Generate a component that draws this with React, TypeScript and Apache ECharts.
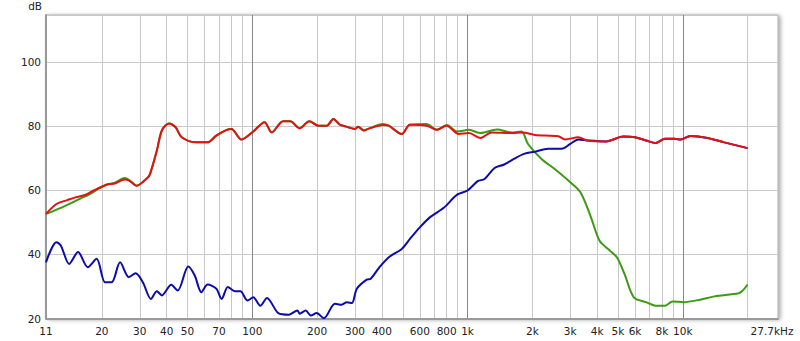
import React, { useEffect, useRef } from 'react';
import * as echarts from 'echarts';

const redFreq = [11, 12.3, 13.8, 14.8, 16.7, 18.3, 21, 23, 25.5, 27, 29, 32.5, 33.5, 36, 38, 41, 44, 47, 55, 62, 68, 76, 80, 89, 101, 114, 123, 139, 150, 166, 184, 203, 222, 238, 255, 265, 300, 310, 330, 345, 405, 430, 495, 540, 645, 720, 800, 910, 1015, 1150, 1290, 1600, 1800, 2060, 2640, 2840, 3270, 3600, 4400, 5300, 6000, 6750, 7480, 8270, 9150, 9800, 10850, 13200, 15600, 20000];
const redDb = [52.6, 55.7, 56.9, 57.6, 58.5, 59.9, 61.7, 62.1, 63.3, 62.8, 61.4, 63.8, 65.1, 72.3, 78.6, 80.8, 79.6, 76.5, 74.9, 74.9, 77.0, 78.8, 79.1, 75.8, 78.3, 81.2, 78.0, 81.5, 81.5, 79.3, 81.5, 80.1, 80.1, 82.2, 80.4, 80.1, 79.1, 79.8, 78.6, 79.1, 80.3, 80.1, 77.5, 80.4, 80.1, 78.8, 80.1, 77.5, 77.8, 76.3, 78.0, 77.8, 78.0, 77.2, 76.8, 75.8, 76.5, 75.5, 75.2, 76.7, 76.5, 75.5, 74.7, 76.0, 76.0, 75.8, 76.9, 76.2, 74.9, 73.1];

const greenFreq = [11, 12.9, 15.8, 17.6, 19.5, 21, 23, 25.5, 27, 29, 32.5, 33.5, 36, 38, 41, 44, 47, 55, 62, 68, 76, 80, 89, 101, 114, 123, 139, 150, 166, 184, 203, 222, 238, 255, 265, 300, 310, 330, 345, 405, 430, 495, 540, 645, 720, 800, 895, 1015, 1150, 1370, 1600, 1780, 1910, 2200, 2540, 3000, 3340, 3720, 4100, 4540, 4940, 5360, 5920, 6750, 7480, 8270, 8980, 10100, 11900, 14050, 18200, 19000, 20000];
const greenDb = [52.6, 54.5, 57.3, 58.8, 60.6, 61.7, 62.3, 63.8, 63.0, 61.4, 63.8, 65.1, 72.3, 78.6, 80.8, 79.6, 76.5, 74.9, 74.9, 77.0, 78.8, 79.1, 75.8, 78.3, 81.2, 78.0, 81.5, 81.5, 79.3, 81.5, 80.1, 80.1, 82.2, 80.4, 80.1, 79.1, 79.8, 78.6, 79.1, 80.6, 80.1, 77.5, 80.4, 80.6, 78.8, 80.3, 78.3, 78.8, 77.8, 78.9, 78.0, 78.3, 74.4, 69.8, 66.6, 62.5, 59.4, 52.1, 44.3, 41.4, 39.1, 33.9, 26.6, 25.1, 24.0, 24.0, 25.3, 25.1, 25.8, 26.9, 27.9, 28.7, 30.6];

const blueFreq = [11, 12.3, 12.9, 14.1, 15.5, 17.2, 18.9, 20.7, 22.2, 24.3, 26.7, 28.7, 31, 33.8, 36, 38, 42, 45, 50.4, 54, 58, 62, 68, 72, 77, 83, 88, 95, 101, 109, 117, 132, 148, 162, 166, 177, 187, 199, 215, 242, 260, 275, 290, 306, 340, 355, 390, 435, 495, 540, 600, 670, 775, 895, 1000, 1115, 1200, 1335, 1480, 1650, 1830, 2060, 2370, 2740, 3000, 3270, 3600, 4400, 5300, 6000, 6750, 7480, 8270, 9150, 9800, 10850, 13200, 15600, 20000];
const blueDb = [37.5, 43.8, 42.7, 37.0, 40.7, 36.0, 38.6, 31.3, 31.3, 37.5, 32.9, 34.1, 31.3, 26.1, 28.5, 27.2, 30.5, 28.7, 36.2, 33.4, 28.2, 30.6, 29.3, 26.1, 29.8, 28.5, 28.5, 25.6, 26.6, 24.0, 26.4, 21.7, 21.2, 22.5, 21.5, 22.5, 20.9, 21.7, 20.1, 24.6, 24.3, 25.1, 24.8, 29.3, 32.1, 32.4, 36.0, 39.3, 41.7, 44.8, 48.4, 51.6, 54.5, 58.6, 59.9, 62.8, 63.5, 66.9, 68.0, 69.8, 71.3, 72.0, 72.9, 72.9, 74.4, 75.8, 75.5, 75.2, 76.7, 76.5, 75.5, 74.7, 76.0, 76.0, 75.8, 76.9, 76.2, 74.9, 73.1];

const minorGrid = [20, 30, 40, 50, 60, 70, 80, 90, 200, 300, 400, 500, 600, 700, 800, 900, 2000, 3000, 4000, 5000, 6000, 7000, 8000, 9000, 20000];
const decadeGrid = [100, 1000, 10000];
const labelFreqs = [11, 20, 30, 40, 50, 70, 100, 200, 300, 400, 600, 800, 1000, 2000, 3000, 4000, 5000, 6000, 8000, 10000, 27700];
const labelTexts = ['11', '20', '30', '40', '50', '70', '100', '200', '300', '400', '600', '800', '1k', '2k', '3k', '4k', '5k', '6k', '8k', '10k', '27.7kHz'];

const FONT = 'DejaVu Sans';
const FS = 10.5;

const zip = (f: number[], d: number[]) => f.map((x, i) => [x, d[i]]);

export default function App() {
  const ref = useRef<HTMLDivElement>(null);
  useEffect(() => {
    const chart = echarts.init(ref.current!, null, { renderer: 'svg' });
    const fmt = (v: number) => {
      const i = labelFreqs.findIndex((x) => Math.abs(x - v) / x < 0.002);
      if (i < 0) return '';
      if (labelTexts[i] === '27.7kHz') return '{u|27.7kHz}';
      return labelTexts[i];
    };
    const mkSeries = (name: string, data: number[][], color: string) => ({
      name,
      type: 'line',
      data,
      xAxisIndex: 0,
      yAxisIndex: 0,
      showSymbol: false,
      symbol: 'none',
      smooth: 0.3,
      lineStyle: { color, width: 2 },
      itemStyle: { color },
      emphasis: { disabled: true },
    });
    chart.setOption({
      animation: false,
      backgroundColor: '#ffffff',
      grid: {
        left: 46,
        right: 22,
        top: 14,
        bottom: 22.5,
        show: true,
        backgroundColor: '#ffffff',
        borderColor: '#aaaaaa',
        borderWidth: 1,
        shadowColor: 'rgba(0,0,0,0.35)',
        shadowBlur: 4,
        shadowOffsetX: 2,
        shadowOffsetY: 1,
      },
      xAxis: [
        {
          type: 'log',
          logBase: 10,
          min: 11,
          max: 27700,
          position: 'bottom',
          axisLine: { show: true, onZero: false, lineStyle: { color: '#999999', width: 2 } },
          axisTick: { show: false, customValues: minorGrid },
          splitLine: { show: true, lineStyle: { color: '#c8c8c8', width: 1 } },
          axisLabel: {
            customValues: labelFreqs,
            formatter: fmt,
            fontFamily: FONT,
            fontSize: FS,
            color: '#222222',
            margin: 7,
            rich: { u: { padding: [0, 12, 0, 0], fontFamily: FONT, fontSize: FS, color: '#222222' } },
          },
        },
        {
          type: 'log',
          logBase: 10,
          min: 11,
          max: 27700,
          position: 'top',
          axisLine: { show: false },
          axisTick: { show: false, customValues: decadeGrid },
          axisLabel: { show: false },
          splitLine: { show: true, lineStyle: { color: '#888888', width: 1 } },
        },
      ],
      yAxis: {
        type: 'value',
        min: 20,
        max: 114.6,
        interval: 20,
        name: 'dB',
        nameLocation: 'end',
        nameGap: 4,
        nameTextStyle: { fontFamily: FONT, fontSize: FS, color: '#222222', align: 'right', verticalAlign: 'bottom', padding: [0, 4, 0, 0] },
        axisLine: { show: true, lineStyle: { color: '#999999', width: 2 } },
        axisTick: { show: false },
        splitLine: { show: true, lineStyle: { color: '#c8c8c8', width: 1 } },
        axisLabel: {
          showMaxLabel: false,
          formatter: (v: number) => (Math.abs(v % 20) < 1e-6 ? String(v) : ''),
          fontFamily: FONT,
          fontSize: FS,
          color: '#222222',
          margin: 5,
        },
      },
      series: [
        mkSeries('green', zip(greenFreq, greenDb), '#3c9a14'),
        mkSeries('blue', zip(blueFreq, blueDb), '#0c0ca8'),
        mkSeries('red', zip(redFreq, redDb), '#e01212'),
      ],
    });
    return () => chart.dispose();
  }, []);
  return <div ref={ref} style={{ position: 'fixed', left: 0, top: 0, width: 800, height: 341 }} />;
}
